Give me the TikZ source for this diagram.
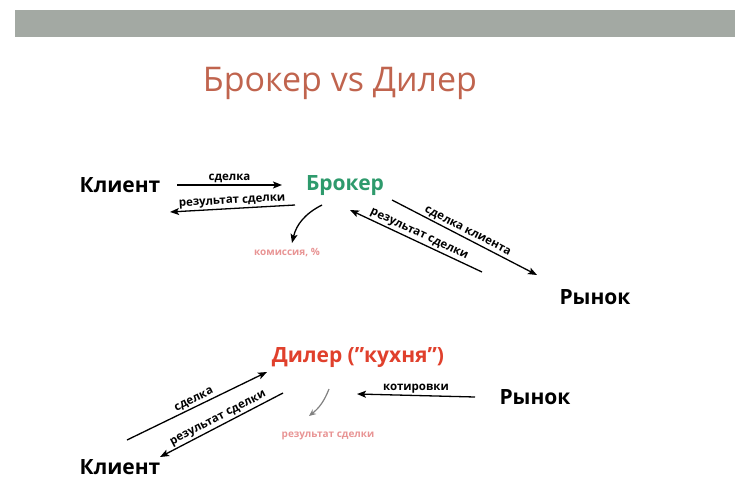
\documentclass[tikz,border=0pt]{standalone}
\usepackage{fontspec}
\setmainfont{Open Sans}
\usetikzlibrary{arrows.meta}
\definecolor{barc}{HTML}{A3A9A3}
\definecolor{titc}{HTML}{C0644E}
\definecolor{brok}{HTML}{2E9A6C}
\definecolor{dil}{HTML}{E0402C}
\definecolor{pinkc}{HTML}{E89494}
\newcommand{\sq}{\symbol{"22}}
\begin{document}
\begin{tikzpicture}[x=1pt,y=-1pt,
  big/.style={font=\fontsize{21}{23}\selectfont\bfseries},
  lbl/.style={font=\fontsize{11.5}{12}\selectfont\bfseries,inner sep=0.5pt},
  arr/.style={-{Stealth[length=9pt,width=7pt,inset=2pt]},line width=1.3pt}]
\useasboundingbox (0,0) rectangle (751,495);
\fill[barc] (15,10) rectangle (735,37);
\node[text=titc,font=\fontsize{34}{36}\selectfont] (title) at (340,83) {Брокер vs Дилер};
\node[big] (k1) at (120,185) {Клиент};
\node[big,text=brok] (br) at (345,186) {Брокер};
\node[big] (r1) at (595,297) {Рынок};
\node[lbl,text=pinkc,font=\fontsize{10}{12}\selectfont\bfseries] (kom) at (287,253) {комиссия, \%};
\coordinate (a1) at (177,185); \coordinate (b1) at (282,185);
\draw[arr] (a1) -- node[lbl,above=1pt] (l1) {сделка} (b1);
\coordinate (a2) at (295,205); \coordinate (b2) at (170,212);
\draw[arr] (a2) -- node[lbl,above=1pt,sloped] (l2) {результат сделки} (b2);
\coordinate (a3) at (322,205); \coordinate (b3) at (292,243);
\draw[arr] (a3) to[bend right=25] (b3);
\coordinate (a4) at (392,200); \coordinate (b4) at (537,275);
\draw[arr] (a4) -- node[lbl,above=1pt,sloped] (l4) {сделка клиента} (b4);
\coordinate (a5) at (482,272); \coordinate (b5) at (350,210);
\draw[arr] (a5) -- node[lbl,above=1pt,sloped] (l5) {результат сделки} (b5);
\node[big,text=dil] (dl) at (358,358) {Дилер (\sq кухня\sq)};
\node[big] (r2) at (535,397) {Рынок};
\node[big] (k2) at (120,467) {Клиент};
\coordinate (a6) at (127,440); \coordinate (b6) at (267,372);
\draw[arr] (a6) -- node[lbl,above=1pt,sloped] (l6) {сделка} (b6);
\coordinate (a7) at (283,393); \coordinate (b7) at (160,457);
\draw[arr] (a7) -- node[lbl,above=1pt,sloped] (l7) {результат сделки} (b7);
\coordinate (a8) at (475,397); \coordinate (b8) at (357,394);
\draw[arr] (a8) -- node[lbl,above=1pt] (l8) {котировки} (b8);
\coordinate (a9) at (329,389); \coordinate (b9) at (309,416);
\draw[gray,line width=1.2pt,-{Stealth[length=7pt,width=6pt]}] (a9) to[bend left=15] (b9);
\node[lbl,text=pinkc,font=\fontsize{10}{12}\selectfont\bfseries] (rs) at (328,436) {результат сделки};
\end{tikzpicture}
\end{document}
